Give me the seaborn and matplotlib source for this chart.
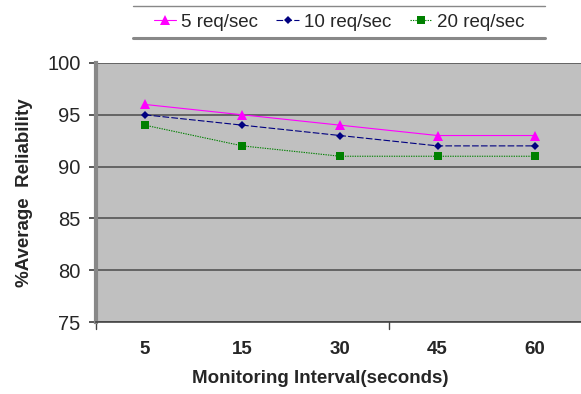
import matplotlib
matplotlib.use("Agg")
import matplotlib.pyplot as plt
import seaborn as sns
import pandas as pd
from matplotlib.lines import Line2D

intervals = ["5", "15", "30", "45", "60"]
series_names = ["5 req/sec", "10 req/sec", "20 req/sec"]
rel_5 = [96, 95, 94, 93, 93]
rel_10 = [95, 94, 93, 92, 92]
rel_20 = [94, 92, 91, 91, 91]
y_ticks = [75, 80, 85, 90, 95, 100]

rows = []
for name, vals in zip(series_names, [rel_5, rel_10, rel_20]):
    for x, v in zip(intervals, vals):
        rows.append({"Interval": x, "Reliability": v, "Series": name})
df = pd.DataFrame(rows)

sns.set_theme(style="white")
plt.rcParams["font.family"] = ["Liberation Sans", "DejaVu Sans"]

W, H = 581, 394
fig = plt.figure(figsize=(W / 100, H / 100), dpi=100)
ax = fig.add_axes([96 / W, 1 - 322 / H, (584 - 96) / W, (322 - 63) / H])
ax.set_facecolor("#C0C0C0")

palette = {"5 req/sec": "#FF00FF", "10 req/sec": "#000080", "20 req/sec": "#008000"}
markers = {"5 req/sec": "^", "10 req/sec": "D", "20 req/sec": "s"}
dashes = {"5 req/sec": None, "10 req/sec": (6, 2), "20 req/sec": (1.2, 1)}
sizes = {"5 req/sec": 6.5, "10 req/sec": 4.5, "20 req/sec": 6}

for name in series_names:
    sub = df[df["Series"] == name]
    sns.lineplot(data=sub, x="Interval", y="Reliability", ax=ax,
                 color=palette[name], marker=markers[name], markersize=sizes[name],
                 markeredgewidth=0, linewidth=0.8, label=name, sort=False)
    if dashes[name]:
        ax.lines[-1].set_dashes(dashes[name])

ax.set_xlim(-0.5, len(intervals) - 0.5)
ax.set_ylim(75, 100)
ax.set_yticks(y_ticks)
ax.yaxis.grid(True, color="#555555", linewidth=1.2)
ax.set_axisbelow(True)
for s in ["top", "right"]:
    ax.spines[s].set_visible(False)
ax.spines["left"].set_color("#888888")
ax.spines["left"].set_linewidth(3)
ax.spines["bottom"].set_color("#444444")
ax.spines["bottom"].set_linewidth(1.2)

ax.tick_params(axis="y", which="both", left=True, length=5, color="#444444",
               labelsize=14.5, pad=6)
ax.tick_params(axis="x", bottom=False, pad=8)
ax.set_xticks(range(len(intervals)))
ax.set_xticklabels(intervals, fontweight="bold", fontsize=13.5)
for b in [-0.5, 2.5]:
    ax.plot([b, b], [75, 74.3], color="#444444", lw=1, clip_on=False)

ax.set_xlabel("Monitoring Interval(seconds)", fontsize=13.5, fontweight="bold")
ax.xaxis.set_label_coords((320 - 96) / 488, -(370 - 322) / 259)
ax.set_ylabel("%Average  Reliability", fontsize=13.5, fontweight="bold", labelpad=10)

leg = ax.legend(loc="center", bbox_to_anchor=(339 / W, 1 - 22 / H),
                bbox_transform=fig.transFigure, ncol=3, frameon=False,
                fontsize=13.5, handlelength=1.2, columnspacing=1.0, handletextpad=0.25)
fig.add_artist(Line2D([133 / W, 545 / W], [1 - 6 / H, 1 - 6 / H],
                      transform=fig.transFigure, color="#888888", lw=1))
fig.add_artist(Line2D([133 / W, 545 / W], [1 - 38 / H, 1 - 38 / H],
                      transform=fig.transFigure, color="#888888", lw=2.2))

fig.savefig("out.png", dpi=100)
